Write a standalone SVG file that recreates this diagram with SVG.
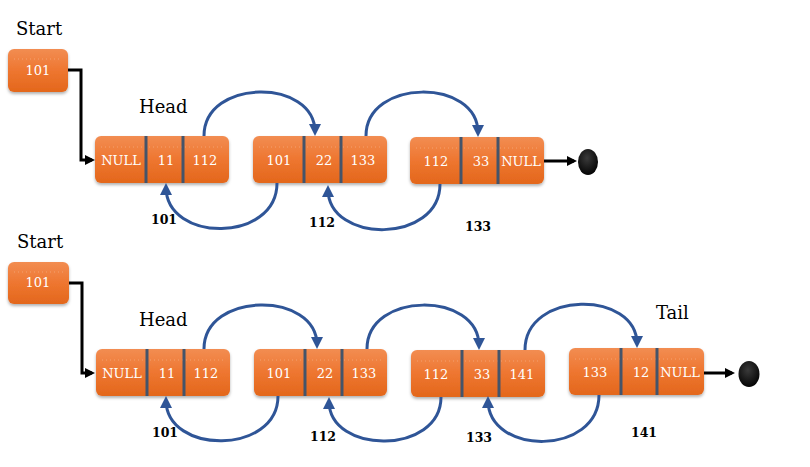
<svg xmlns="http://www.w3.org/2000/svg" width="810" height="467" viewBox="0 0 810 467">
<defs>
<linearGradient id="og" x1="0" y1="0" x2="0" y2="1">
<stop offset="0" stop-color="#f28d52"/>
<stop offset="0.5" stop-color="#ee7630"/>
<stop offset="1" stop-color="#e3671c"/>
</linearGradient>
<radialGradient id="dot" cx="0.45" cy="0.35" r="0.7">
<stop offset="0" stop-color="#3a3a3a"/>
<stop offset="1" stop-color="#000"/>
</radialGradient>
<filter id="sh" x="-10%" y="-10%" width="120%" height="140%">
<feDropShadow dx="0" dy="2" stdDeviation="1.5" flood-color="#000" flood-opacity="0.3"/>
</filter>
<marker id="ab" markerUnits="userSpaceOnUse" markerWidth="12" markerHeight="12" viewBox="0 0 12 12" refX="8" refY="6" orient="auto">
<path d="M0,0 L12,6 L0,12 z" fill="#2f5597"/>
</marker>
<marker id="ak" markerUnits="userSpaceOnUse" markerWidth="10" markerHeight="10" viewBox="0 0 10 10" refX="7" refY="5" orient="auto">
<path d="M0,0 L10,5 L0,10 z" fill="#000"/>
</marker>
</defs>
<style>
.box{fill:url(#og);filter:url(#sh)}
.dl{stroke:#ffffff;stroke-opacity:0.25;stroke-width:1;stroke-dasharray:1 3}
.dv{stroke:#44546a;stroke-width:3}
.t{font-family:"DejaVu Serif","Liberation Serif",serif;font-size:13px;fill:#fff;text-anchor:middle}
.lb{font-family:"DejaVu Serif","Liberation Serif",serif;font-size:18px;fill:#000}
.num{font-family:"DejaVu Serif","Liberation Serif",serif;font-size:12.5px;font-weight:bold;fill:#000;text-anchor:middle}
.blue{fill:none;stroke:#2f5597;stroke-width:3;marker-end:url(#ab)}
.blk{fill:none;stroke:#000;stroke-width:3;marker-end:url(#ak)}
</style>
<rect width="810" height="467" fill="#fff"/>

<!-- top row -->
<text class="lb" x="16" y="35">Start</text>
<g id="start1">
<rect class="box" x="8" y="49" width="60" height="43" rx="6"/>
<line class="dl" x1="14" y1="59" x2="62" y2="59"/>
<text class="t" x="38" y="75">101</text>
</g>
<text class="lb" x="139" y="113">Head</text>
<g id="n1a">
<rect class="box" x="95" y="136" width="134" height="47" rx="6"/>
<line class="dl" x1="101" y1="147" x2="223" y2="147"/>
<line class="dv" x1="146" y1="136" x2="146" y2="183"/>
<line class="dv" x1="183" y1="136" x2="183" y2="183"/>
<text class="t" x="121" y="165">NULL</text>
<text class="t" x="166" y="165">11</text>
<text class="t" x="205" y="165">112</text>
</g>
<g id="n2a">
<rect class="box" x="253" y="136" width="134" height="47" rx="6"/>
<line class="dl" x1="259" y1="147" x2="381" y2="147"/>
<line class="dv" x1="304" y1="136" x2="304" y2="183"/>
<line class="dv" x1="341" y1="136" x2="341" y2="183"/>
<text class="t" x="279" y="165">101</text>
<text class="t" x="324" y="165">22</text>
<text class="t" x="363" y="165">133</text>
</g>
<g id="n3a">
<rect class="box" x="410" y="137" width="134" height="47" rx="6"/>
<line class="dl" x1="416" y1="148" x2="538" y2="148"/>
<line class="dv" x1="461" y1="137" x2="461" y2="184"/>
<line class="dv" x1="498" y1="137" x2="498" y2="184"/>
<text class="t" x="436" y="166">112</text>
<text class="t" x="481" y="166">33</text>
<text class="t" x="521" y="166">NULL</text>
</g>
<g id="end1">
<ellipse cx="588" cy="162" rx="10" ry="13" fill="url(#dot)"/>
</g>
<text class="num" x="164" y="224">101</text>
<text class="num" x="322" y="227">112</text>
<text class="num" x="478" y="231">133</text>

<!-- bottom row -->
<text class="lb" x="17" y="248">Start</text>
<g id="start2">
<rect class="box" x="8" y="262" width="61" height="42" rx="6"/>
<line class="dl" x1="14" y1="272" x2="63" y2="272"/>
<text class="t" x="38" y="287">101</text>
</g>
<text class="lb" x="139" y="326">Head</text>
<text class="lb" x="656" y="319">Tail</text>
<g id="n1b">
<rect class="box" x="96" y="349" width="134" height="47" rx="6"/>
<line class="dl" x1="102" y1="360" x2="224" y2="360"/>
<line class="dv" x1="147" y1="349" x2="147" y2="396"/>
<line class="dv" x1="184" y1="349" x2="184" y2="396"/>
<text class="t" x="122" y="378">NULL</text>
<text class="t" x="167" y="378">11</text>
<text class="t" x="206" y="378">112</text>
</g>
<g id="n2b">
<rect class="box" x="254" y="349" width="133" height="47" rx="6"/>
<line class="dl" x1="260" y1="360" x2="381" y2="360"/>
<line class="dv" x1="305" y1="349" x2="305" y2="396"/>
<line class="dv" x1="342" y1="349" x2="342" y2="396"/>
<text class="t" x="279" y="378">101</text>
<text class="t" x="325" y="378">22</text>
<text class="t" x="364" y="378">133</text>
</g>
<g id="n3b">
<rect class="box" x="411" y="350" width="134" height="47" rx="6"/>
<line class="dl" x1="417" y1="361" x2="539" y2="361"/>
<line class="dv" x1="462" y1="350" x2="462" y2="397"/>
<line class="dv" x1="499" y1="350" x2="499" y2="397"/>
<text class="t" x="436" y="379">112</text>
<text class="t" x="482" y="379">33</text>
<text class="t" x="522" y="379">141</text>
</g>
<g id="n4b">
<rect class="box" x="569" y="348" width="135" height="47" rx="6"/>
<line class="dl" x1="575" y1="359" x2="698" y2="359"/>
<line class="dv" x1="621" y1="348" x2="621" y2="395"/>
<line class="dv" x1="657" y1="348" x2="657" y2="395"/>
<text class="t" x="595" y="377">133</text>
<text class="t" x="641" y="377">12</text>
<text class="t" x="680" y="377">NULL</text>
</g>
<g id="end2">
<ellipse cx="749" cy="374" rx="10.5" ry="13" fill="url(#dot)"/>
</g>
<text class="num" x="165" y="437">101</text>
<text class="num" x="323" y="441">112</text>
<text class="num" x="479" y="442">133</text>
<text class="num" x="644" y="437">141</text>

<g id="connectors">
<path class="blk" d="M68,70 H81 V160 H92"/>
<path class="blk" d="M544,161 H574"/>
<path class="blue" d="M204,136 C204,78 315,78 315,132"/>
<path class="blue" d="M366,136 C366,78 478,78 478,133"/>
<path class="blue" d="M277,183 C277,243 166,243 166,187"/>
<path class="blue" d="M440,184 C440,244 328,244 328,189"/>

<path class="blk" d="M69,283 H82 V373 H92"/>
<path class="blk" d="M704,373 H732"/>
<path class="blue" d="M204,349 C204,291 317,291 317,345"/>
<path class="blue" d="M367,349 C367,291 479,291 479,346"/>
<path class="blue" d="M525,350 C525,290 637,290 637,344"/>
<path class="blue" d="M278,396 C278,455 166,455 166,400"/>
<path class="blue" d="M441,397 C441,455 329,455 329,401"/>
<path class="blue" d="M599,395 C599,456 488,456 488,400"/>
</g>
</svg>
